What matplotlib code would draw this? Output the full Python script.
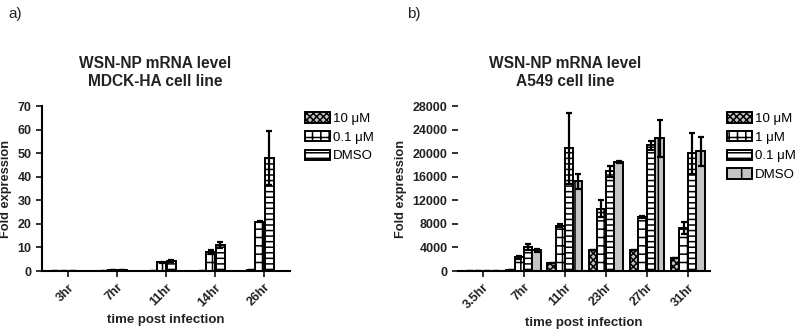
import matplotlib
matplotlib.use("Agg")
import matplotlib.pyplot as plt
import numpy as np
from matplotlib.patches import Patch

plt.rcParams['font.family'] = ['Liberation Sans', 'DejaVu Sans']
plt.rcParams['hatch.linewidth'] = 1.1

# Panel a data
cats_a = ["3hr", "7hr", "11hr", "14hr", "26hr"]
series_a = ["10 μM", "0.1 μM", "DMSO"]
vals_a = {
    "10 μM": [0.1, 0.1, 0.1, 0.2, 0.3],
    "0.1 μM": [0.2, 0.3, 3.8, 8.2, 21.0],
    "DMSO": [0.2, 0.4, 4.3, 11.0, 48.0],
}
err_a = {
    "10 μM": [0, 0, 0, 0, 0],
    "0.1 μM": [0, 0, 0.2, 0.8, 0.3],
    "DMSO": [0, 0, 0.3, 1.2, 11.5],
}

# Panel b data
cats_b = ["3.5hr", "7hr", "11hr", "23hr", "27hr", "31hr"]
series_b = ["10 μM", "1 μM", "0.1 μM", "DMSO"]
vals_b = {
    "10 μM": [50, 100, 1400, 3600, 3500, 2200],
    "1 μM": [50, 2300, 7700, 10600, 9200, 7300],
    "0.1 μM": [60, 4100, 20800, 16900, 21300, 20000],
    "DMSO": [50, 3500, 15200, 18500, 22500, 20300],
}
err_b = {
    "10 μM": [0, 0, 0, 0, 0, 0],
    "1 μM": [0, 300, 200, 1400, 200, 1000],
    "0.1 μM": [0, 500, 6000, 900, 700, 3500],
    "DMSO": [0, 200, 1200, 100, 3100, 2500],
}

styles_a = {
    "10 μM": dict(facecolor="#c4c4c4", hatch="xxxxx"),
    "0.1 μM": dict(facecolor="white", hatch="++"),
    "DMSO": dict(facecolor="white", hatch="---"),
}
styles_b = {
    "10 μM": dict(facecolor="#c4c4c4", hatch="xxxxx"),
    "1 μM": dict(facecolor="white", hatch="++"),
    "0.1 μM": dict(facecolor="white", hatch="---"),
    "DMSO": dict(facecolor="#c4c4c4", hatch="|"),
}

TXT = "#222222"
fig = plt.figure(figsize=(8, 3.32), dpi=100)

def style_axes(ax, show_left=True):
    for s in ["top", "right"]:
        ax.spines[s].set_visible(False)
    ax.spines["bottom"].set_linewidth(1.5)
    ax.spines["left"].set_linewidth(1.5)
    if not show_left:
        ax.spines["left"].set_visible(False)
    ax.tick_params(axis="both", width=1.3, length=4, labelsize=9, colors=TXT)
    for lab in ax.get_yticklabels():
        lab.set_fontweight("bold")

def legend_at(ax, handles, labels, x_px, y_px):
    ax.legend(handles, labels, loc="upper left", bbox_to_anchor=(x_px / 800, 1 - y_px / 332),
              bbox_transform=fig.transFigure, frameon=False, fontsize=9.5,
              handlelength=1.9, handleheight=0.85, handletextpad=0.2, labelspacing=0.45,
              borderaxespad=0, borderpad=0)

# ---- Panel a
axa = fig.add_axes([0.0525, 0.1837, 0.31, 0.497])
xa = np.arange(len(cats_a))
wa = 0.17
offs_a = [-0.27, -0.09, 0.11]
for k, s in enumerate(series_a):
    axa.bar(xa + offs_a[k], vals_a[s], wa, edgecolor="black", linewidth=1.4,
            yerr=err_a[s], error_kw=dict(elinewidth=1.6, capsize=2.5, capthick=1.6, ecolor="black"),
            **styles_a[s], zorder=2)
axa.set_xlim(-0.53, len(cats_a) - 0.47)
axa.set_ylim(0, 70)
axa.set_yticks(np.arange(0, 71, 10))
axa.set_xticks(xa)
axa.set_xticklabels(cats_a, rotation=45, ha="right", rotation_mode="anchor", fontsize=8.5, fontweight="bold")
style_axes(axa)
axa.set_ylabel("Fold expression", fontsize=9.2, fontweight="bold", color=TXT, labelpad=4)
axa.set_xlabel("time post infection", fontsize=9.5, fontweight="bold", color=TXT, labelpad=4)
handles_a = [Patch(edgecolor="black", linewidth=1.4, **styles_a[s]) for s in series_a]
legend_at(axa, handles_a, series_a, 305, 112)

# ---- Panel b
axb = fig.add_axes([0.5725, 0.1837, 0.315, 0.497])
xb = np.arange(len(cats_b))
wb = 0.21
for k, s in enumerate(series_b):
    axb.bar(xb + (k - 1.5) * wb, vals_b[s], wb, edgecolor="black", linewidth=1.4,
            yerr=err_b[s], error_kw=dict(elinewidth=1.6, capsize=2.5, capthick=1.6, ecolor="black"),
            **styles_b[s], zorder=2)
axb.set_xlim(-0.6, len(cats_b) - 0.46)
axb.set_ylim(0, 28000)
axb.set_yticks(np.arange(0, 28001, 4000))
axb.set_xticks(xb)
axb.set_xticklabels(cats_b, rotation=45, ha="right", rotation_mode="anchor", fontsize=8.5, fontweight="bold")
style_axes(axb, show_left=False)
axb.set_ylabel("Fold expression", fontsize=9.2, fontweight="bold", color=TXT, labelpad=4)
axb.set_xlabel("time post infection", fontsize=9.5, fontweight="bold", color=TXT, labelpad=4)
handles_b = [Patch(edgecolor="black", linewidth=1.4, **styles_b[s]) for s in series_b]
legend_at(axb, handles_b, series_b, 727, 112)

# Titles and panel labels
fig.text(155 / 800, 1 - 73 / 332, "WSN-NP mRNA level\nMDCK-HA cell line", ha="center", va="center",
         fontsize=11.2, fontweight="bold", color=TXT, linespacing=1.25)
fig.text(565 / 800, 1 - 73 / 332, "WSN-NP mRNA level\nA549 cell line", ha="center", va="center",
         fontsize=11.2, fontweight="bold", color=TXT, linespacing=1.25)
fig.text(8 / 800, 1 - 14 / 332, "a)", ha="left", va="center", fontsize=11, color=TXT)
fig.text(407 / 800, 1 - 14 / 332, "b)", ha="left", va="center", fontsize=11, color=TXT)

fig.savefig("out.png", dpi=100)
